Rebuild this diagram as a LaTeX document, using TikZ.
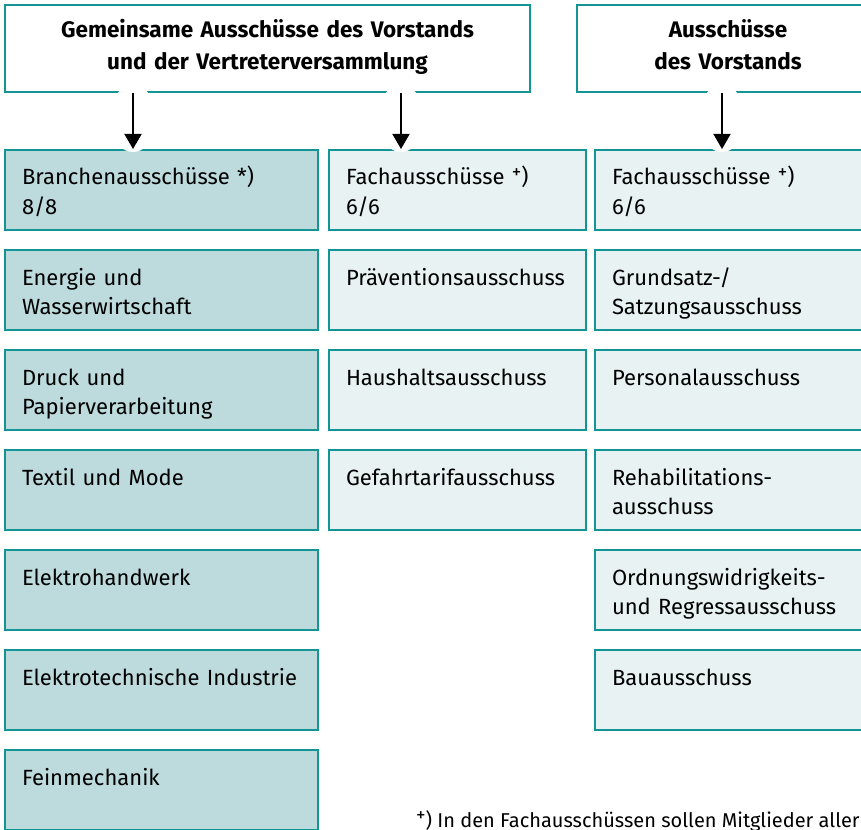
\documentclass[tikz,border=0pt]{standalone}
\usepackage{fontspec}
\setmainfont{Fira Sans}
\usetikzlibrary{arrows.meta,positioning}
\definecolor{rim}{RGB}{20,148,148}
\definecolor{branch}{RGB}{189,219,221}
\definecolor{pale}{RGB}{232,242,243}
\newcommand{\plusmark}{\raisebox{0.28em}{\fontsize{19}{19}\selectfont +}}

\begin{document}
\begin{tikzpicture}[
  x=1pt,y=1pt,
  font=\fontsize{22}{29}\selectfont,
  head/.style={rectangle,draw=rim,line width=2pt,fill=white,align=center,inner xsep=0pt,inner ysep=0pt,text height=33pt,text depth=54pt,font=\fontsize{22.5}{32}\selectfont\bfseries},
  cbox/.style={rectangle,draw=rim,line width=2pt,align=left,anchor=north west,inner xsep=17pt,inner ysep=0pt,text height=35pt,text depth=45pt},
  branchbox/.style={cbox,fill=branch,text width=279pt},
  midbox/.style={cbox,fill=pale,text width=223pt},
  boardbox/.style={cbox,fill=pale,text width=251pt},
  arr/.style={line width=1.6pt,-{Triangle[length=15pt,width=17pt]},preaction={draw=white,line width=34pt,line cap=round,-,shorten <=8pt,shorten >=14pt}}
]
\path[use as bounding box] (0,0) rectangle (861,-829);
\clip (0,0) rectangle (861,-829);
% headers
\node[head,text width=525pt,anchor=north west] (hd1) at (4,-4) {Gemeinsame Ausschüsse des Vorstands\\und der Vertreterversammlung};
\node[head,text width=302pt,right=45pt of hd1] (hd2) {Ausschüsse\\des Vorstands};
% joint committees: branches
\node[branchbox] (b1) at (4,-149) {Branchenausschüsse *)\\8/8};
\node[branchbox,below=18pt of b1] (b2) {Energie und\\Wasserwirtschaft};
\node[branchbox,below=18pt of b2] (b3) {Druck und\\Papierverarbeitung};
\node[branchbox,below=18pt of b3] (b4) {Textil und Mode};
\node[branchbox,below=18pt of b4] (b5) {Elektrohandwerk};
\node[branchbox,below=18pt of b5] (b6) {Elektrotechnische Industrie};
\node[branchbox,below=18pt of b6] (b7) {Feinmechanik};
% joint committees: subjects
\node[midbox,right=9pt of b1] (c1) {Fachausschüsse \plusmark)\\6/6};
\node[midbox,below=18pt of c1] (c2) {Präventionsausschuss};
\node[midbox,below=18pt of c2] (c3) {Haushaltsausschuss};
\node[midbox,below=18pt of c3] (c4) {Gefahrtarifausschuss};
% board committees
\node[boardbox,right=7pt of c1] (d1) {Fachausschüsse \plusmark)\\6/6};
\node[boardbox,below=18pt of d1] (d2) {Grundsatz-/\\Satzungsausschuss};
\node[boardbox,below=18pt of d2] (d3) {Personalausschuss};
\node[boardbox,below=18pt of d3] (d4) {Rehabilitations-\\ausschuss};
\node[boardbox,below=18pt of d4] (d5) {Ordnungswidrigkeits-\\und Regressausschuss};
\node[boardbox,below=18pt of d5] (d6) {Bauausschuss};
\draw[arr] ([xshift=129pt]b1.north west |- hd1.south) -- ([xshift=129pt]b1.north west);
\draw[arr] ([xshift=73pt]c1.north west |- hd1.south) -- ([xshift=73pt]c1.north west);
\draw[arr] ([xshift=128pt]d1.north west |- hd2.south) -- ([xshift=128pt]d1.north west);
\node[anchor=base west,inner sep=0pt,font=\fontsize{20}{24}\selectfont] (note) at (416,-827) {\plusmark) In den Fachausschüssen sollen Mitglieder aller};
\end{tikzpicture}
\end{document}
